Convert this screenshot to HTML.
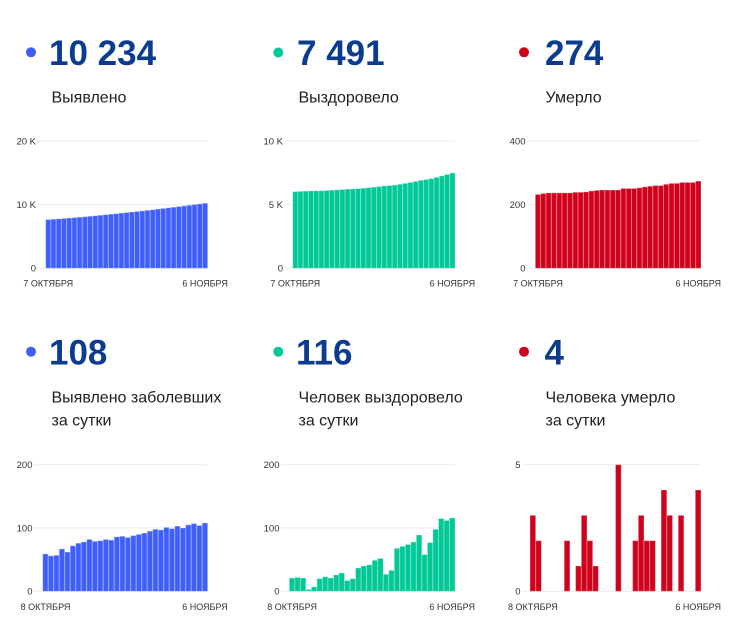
<!DOCTYPE html>
<html>
<head>
<meta charset="utf-8">
<style>
html,body{margin:0;padding:0;background:#fff;}
svg{display:block;}
.num{font-family:"Liberation Sans",Arial,sans-serif;font-weight:bold;font-size:35px;fill:#0b3c8f;}
.lab{font-family:"Liberation Sans",Arial,sans-serif;font-size:16px;fill:#212121;}
.ax{font-family:"Liberation Sans",Arial,sans-serif;font-size:9.5px;fill:#333;}
.xl{font-family:"Liberation Sans",Arial,sans-serif;font-size:9px;fill:#333;}
</style>
</head>
<body>
<svg id="s" width="753" height="618" viewBox="0 0 753 618" xmlns="http://www.w3.org/2000/svg">
  <!-- headers top -->
  <circle cx="31" cy="52.3" r="5" fill="#3f5efb"/>
  <circle cx="278.3" cy="52.5" r="5" fill="#00c897"/>
  <circle cx="524" cy="52.3" r="5" fill="#d0021b"/>
  <text class="num" x="49" y="65">10 234</text>
  <text class="num" x="297" y="65">7 491</text>
  <text class="num" x="545" y="65">274</text>
  <text class="lab" x="51.5" y="102.5">Выявлено</text>
  <text class="lab" x="298.5" y="102.5">Выздоровело</text>
  <text class="lab" x="545.5" y="102.5">Умерло</text>

  <!-- headers bottom -->
  <circle cx="31" cy="351.7" r="5" fill="#3f5efb"/>
  <circle cx="278.3" cy="351.7" r="5" fill="#00c897"/>
  <circle cx="524" cy="351.7" r="5" fill="#d0021b"/>
  <text class="num" x="49" y="364.5">108</text>
  <text class="num" x="296" y="364.5">116</text>
  <text class="num" x="544.5" y="364.5">4</text>
  <text class="lab" x="51.5" y="402.7">Выявлено заболевших</text>
  <text class="lab" x="51.5" y="425.7">за сутки</text>
  <text class="lab" x="298.5" y="402.7">Человек выздоровело</text>
  <text class="lab" x="298.5" y="425.7">за сутки</text>
  <text class="lab" x="545.5" y="402.7">Человека умерло</text>
  <text class="lab" x="545.5" y="425.7">за сутки</text>

  <!-- gridlines -->
  <g stroke="#ebebeb" stroke-width="1">
    <line x1="38" y1="141" x2="207.7" y2="141"/>
    <line x1="38" y1="204.6" x2="207.7" y2="204.6"/>
    <line x1="38" y1="268.3" x2="207.7" y2="268.3"/>
    <line x1="284" y1="141" x2="455" y2="141"/>
    <line x1="284" y1="204.6" x2="455" y2="204.6"/>
    <line x1="284" y1="268.3" x2="455" y2="268.3"/>
    <line x1="527" y1="141" x2="701" y2="141"/>
    <line x1="527" y1="204.6" x2="701" y2="204.6"/>
    <line x1="527" y1="268.3" x2="701" y2="268.3"/>
    <line x1="34" y1="464.7" x2="207.7" y2="464.7"/>
    <line x1="34" y1="527.9" x2="207.7" y2="527.9"/>
    <line x1="34" y1="591.3" x2="207.7" y2="591.3"/>
    <line x1="281" y1="464.7" x2="455" y2="464.7"/>
    <line x1="281" y1="527.9" x2="455" y2="527.9"/>
    <line x1="281" y1="591.3" x2="455" y2="591.3"/>
    <line x1="523" y1="464.7" x2="701" y2="464.7"/>
    <line x1="523" y1="591.3" x2="701" y2="591.3"/>
  </g>

  <!-- y labels -->
  <g class="ax" text-anchor="end">
    <text x="36" y="144.4">20 K</text>
    <text x="36" y="208">10 K</text>
    <text x="36" y="271.7">0</text>
    <text x="283" y="144.4">10 K</text>
    <text x="283" y="208">5 K</text>
    <text x="283" y="271.7">0</text>
    <text x="525.5" y="144.4">400</text>
    <text x="525.5" y="208">200</text>
    <text x="525.5" y="271.7">0</text>
    <text x="32.5" y="468.1">200</text>
    <text x="32.5" y="531.3">100</text>
    <text x="32.5" y="594.7">0</text>
    <text x="279.5" y="468.1">200</text>
    <text x="279.5" y="531.3">100</text>
    <text x="279.5" y="594.7">0</text>
    <text x="520.5" y="468.1">5</text>
    <text x="520.5" y="594.7">0</text>
  </g>

  <!-- x labels -->
  <g class="xl" text-anchor="middle">
    <text x="48.3" y="286.5">7 ОКТЯБРЯ</text>
    <text x="205.1" y="286.5">6 НОЯБРЯ</text>
    <text x="295.3" y="286.5">7 ОКТЯБРЯ</text>
    <text x="452.4" y="286.5">6 НОЯБРЯ</text>
    <text x="538" y="286.5">7 ОКТЯБРЯ</text>
    <text x="698.3" y="286.5">6 НОЯБРЯ</text>
    <text x="45.5" y="610">8 ОКТЯБРЯ</text>
    <text x="205" y="610">6 НОЯБРЯ</text>
    <text x="292.1" y="610">8 ОКТЯБРЯ</text>
    <text x="452.2" y="610">6 НОЯБРЯ</text>
    <text x="532.9" y="610">8 ОКТЯБРЯ</text>
    <text x="698.2" y="610">6 НОЯБРЯ</text>
  </g>

  <g id="bars"></g>
</svg>
<script>
(function(){
  var d1=[59,56,57,67,62,72,76,78,82,79,80,82,81,86,87,85,88,90,92,95,98,97,101,99,103,100,105,107,104,108];
  var d2=[21,22,21,3,7,20,23,21,26,29,17,20,37,40,42,49,52,27,33,68,71,74,78,89,58,77,98,115,112,116];
  var d3=[3,2,0,0,0,0,2,0,1,3,2,1,0,0,0,5,0,0,2,3,2,2,0,4,3,0,3,0,0,4];
  function cum(start,d){var a=[start],v=start;for(var i=0;i<d.length;i++){v+=d[i];a.push(v);}return a;}
  var B="#3f5efb",G="#00c897",R="#d0021b";
  var charts=[
    {x0:45.7,x1:207.7,base:268.3,top:141,max:20000,c:B,v:cum(7658,d1)},
    {x0:292.7,x1:455,base:268.3,top:141,max:10000,c:G,v:cum(6025,d2)},
    {x0:535.3,x1:701,base:268.3,top:141,max:400,c:R,v:cum(232,d3)},
    {x0:42.7,x1:207.7,base:591.3,top:464.7,max:200,c:B,v:d1},
    {x0:289.3,x1:455,base:591.3,top:464.7,max:200,c:G,v:d2},
    {x0:530,x1:701,base:591.3,top:464.7,max:5,c:R,v:d3}
  ];
  var g=document.getElementById('bars');
  var ns="http://www.w3.org/2000/svg";
  charts.forEach(function(ch){
    var n=ch.v.length, step=(ch.x1-ch.x0)/n, sc=(ch.base-ch.top)/ch.max;
    for(var i=0;i<n;i++){
      var val=ch.v[i]; if(!val) continue;
      var h=val*sc;
      var r=document.createElementNS(ns,'rect');
      r.setAttribute('x',(ch.x0+i*step).toFixed(2));
      r.setAttribute('y',(ch.base-h).toFixed(2));
      r.setAttribute('width',step.toFixed(2));
      r.setAttribute('height',h.toFixed(2));
      r.setAttribute('fill',ch.c);
      r.setAttribute('stroke','#ffffff');
      r.setAttribute('stroke-opacity','0.32');
      r.setAttribute('stroke-width','1');
      g.appendChild(r);
    }
  });
})();
</script>
</body>
</html>
